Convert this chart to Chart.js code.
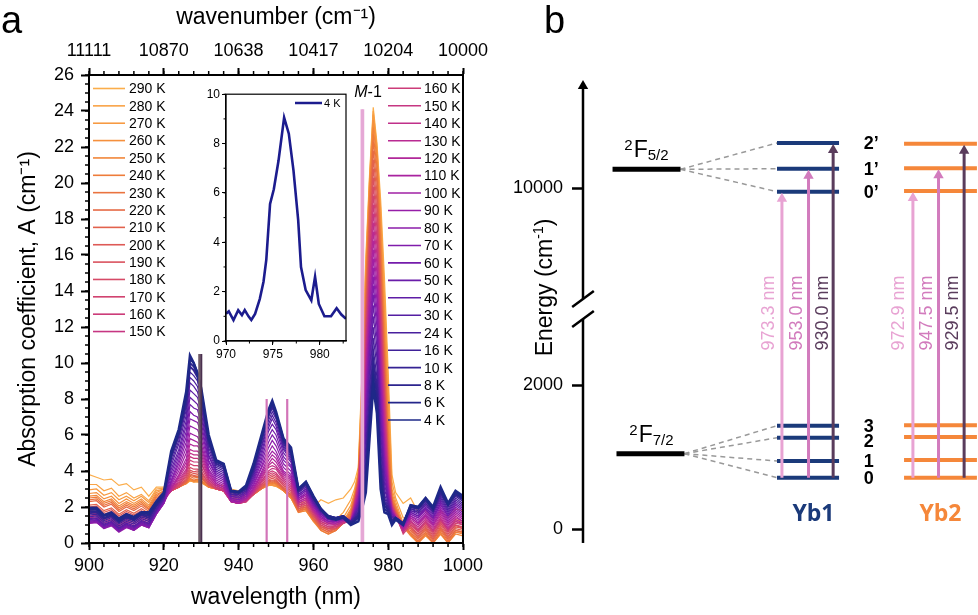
<!DOCTYPE html>
<html>
<head>
<meta charset="utf-8">
<title>Yb absorption spectra and crystal-field levels</title>
<script src="https://cdn.jsdelivr.net/npm/chart.js@4.4.1/dist/chart.umd.min.js"></script>
<style>
  html, body { margin: 0; padding: 0; background: #fff; }
  #wrap { position: relative; width: 978px; height: 615px; overflow: hidden; font-family: "Liberation Sans", Arial, sans-serif; }
  canvas { position: absolute; }
  .panel { position: absolute; font-size: 38px; line-height: 1; color: #000; }
</style>
</head>
<body>
<div id="wrap">
  <canvas id="spectra" width="520" height="615" style="left:0;top:0"></canvas>
  <canvas id="inset" width="165" height="285" style="left:190px;top:85px"></canvas>
  <canvas id="levels" width="488" height="615" style="left:490px;top:0"></canvas>
  <div class="panel" style="left:1px;top:1px">a</div>
  <div class="panel" style="left:544px;top:1px">b</div>
</div>
<script>
Chart.defaults.font.family = '"Liberation Sans", Arial, sans-serif';
Chart.defaults.color = '#000';

// ---- panel a data ----
const wavelengths = [900,902,904,906,908,910,912,914,916,918,920,922,924,926, 927,928,929,930,
  932,934,936,938,940,942,944,946,948, 949,950,952,954,956,958,960,962,964,966,968,970,
  971,972,973,974,975,976,977,978,979,980,981,982, 984,986,988,990,992,994,996,998,1000];

const temps = [4,6,8,10,16,24,30,40,50,60,70,80,90,100,110,120,130,140,150,160,170,180,190,200,210,220,230,240,250,260,270,280,290];

const abs4K   = [1.95,1.95,1.55,1.7,1.35,1.6,1.45,1.7,1.7,2.3,2.8,5.1,6.3,8.4, 10.4,10.0,9.4,8.6, 6.0,4.6,4.4,2.9,2.85,3.2,4.4,5.9,7.4, 7.9,7.3,5.8,5.3,3.0,3.4,2.6,1.9,1.4,1.3,1.4,1.0, 1.1,1.2,1.9,2.8,5.8,8.7,7.2,3.0,1.7,1.6,1.0,1.3, 1.0,2.1,2.0,2.5,2.0,3.1,2.2,2.9,2.6];
const abs6K   = [1.85,1.85,1.5,1.6,1.25,1.5,1.35,1.65,1.6,2.2,2.7,5.0,6.2,8.2, 10.2,10.0,9.5,8.5, 5.8,4.5,4.4,2.9,2.8,3.1,4.3,5.8,7.3, 7.8,7.2,5.8,5.2,3.0,3.4,2.6,1.9,1.5,1.4,1.5,1.1, 1.2,1.4,2.1,3.2,6.3,9.2,7.7,3.4,1.9,1.7,1.1,1.4, 1.1,2.1,2.0,2.5,1.9,3.0,2.2,2.8,2.5];
const abs8K   = [1.75,1.75,1.4,1.55,1.2,1.45,1.3,1.6,1.5,2.1,2.7,4.9,6.1,8.0, 10.0,9.8,9.4,8.4, 5.7,4.5,4.3,2.9,2.8,3.1,4.2,5.7,7.2, 7.7,7.2,5.7,5.1,3.0,3.3,2.5,1.9,1.5,1.4,1.5,1.1, 1.3,1.5,2.3,3.6,6.8,9.7,8.2,3.8,2.1,1.8,1.2,1.4, 1.1,2.0,1.9,2.4,1.9,2.9,2.1,2.7,2.5];
const abs10K  = [1.65,1.7,1.35,1.5,1.15,1.4,1.25,1.55,1.4,2.05,2.6,4.8,6.0,7.8, 9.8,9.6,9.2,8.2, 5.6,4.4,4.2,2.8,2.8,3.0,4.1,5.6,7.1, 7.6,7.1,5.6,5.0,2.9,3.3,2.5,1.8,1.5,1.4,1.5,1.1, 1.3,1.6,2.5,4.0,7.3,10.2,8.7,4.2,2.3,1.9,1.2,1.4, 1.1,2.0,1.9,2.4,1.8,2.8,2.1,2.7,2.4];
const abs16K  = [1.55,1.6,1.25,1.4,1.05,1.3,1.15,1.45,1.3,2.0,2.6,4.7,5.9,7.6, 9.5,9.3,9.0,8.0, 5.5,4.3,4.1,2.8,2.7,3.0,4.0,5.5,7.0, 7.5,7.0,5.5,4.9,2.9,3.2,2.4,1.8,1.5,1.4,1.5,1.2, 1.4,1.7,2.7,4.5,7.9,10.8,9.2,4.7,2.5,2.0,1.3,1.4, 1.1,1.9,1.8,2.3,1.8,2.7,2.0,2.6,2.3];
const abs24K  = [1.45,1.5,1.15,1.3,0.95,1.2,1.05,1.35,1.2,1.9,2.5,4.5,5.7,7.4, 9.2,9.0,8.7,7.8, 5.3,4.2,4.0,2.7,2.7,2.9,3.9,5.3,6.8, 7.3,6.9,5.4,4.8,2.8,3.2,2.4,1.8,1.4,1.4,1.5,1.2, 1.4,1.8,2.9,4.9,8.4,11.4,9.8,5.2,2.7,2.1,1.4,1.4, 1.1,1.9,1.7,2.2,1.7,2.6,1.9,2.5,2.2];
const abs30K  = [1.35,1.4,1.05,1.2,0.85,1.1,0.95,1.25,1.1,1.85,2.5,4.3,5.5,7.1, 8.9,8.7,8.4,7.6, 5.1,4.1,3.9,2.7,2.6,2.9,3.8,5.2,6.6, 7.1,6.7,5.3,4.7,2.8,3.1,2.3,1.7,1.4,1.4,1.5,1.2, 1.5,1.9,3.1,5.3,8.9,12.0,10.3,5.7,3.0,2.2,1.4,1.4, 1.1,1.8,1.7,2.2,1.7,2.5,1.8,2.4,2.1];
const abs40K  = [1.3,1.35,1.0,1.15,0.8,1.05,0.9,1.2,1.05,1.8,2.4,4.1,5.2,6.8, 8.5,8.3,8.1,7.3, 4.9,4.0,3.8,2.6,2.6,2.8,3.7,5.0,6.4, 6.9,6.5,5.2,4.6,2.7,3.0,2.3,1.7,1.4,1.3,1.5,1.2, 1.5,2.0,3.3,5.8,9.5,12.6,10.9,6.2,3.3,2.3,1.5,1.4, 1.1,1.8,1.6,2.1,1.6,2.4,1.7,2.3,2.0];
const abs50K  = [1.25,1.3,0.95,1.1,0.75,1.0,0.85,1.15,1.0,1.75,2.4,3.9,5.0,6.5, 8.1,7.9,7.7,7.0, 4.8,3.9,3.7,2.6,2.5,2.8,3.6,4.8,6.2, 6.6,6.3,5.0,4.5,2.7,3.0,2.2,1.7,1.3,1.3,1.4,1.2, 1.6,2.1,3.5,6.2,10.0,13.2,11.4,6.7,3.6,2.4,1.5,1.4, 1.0,1.7,1.5,2.0,1.5,2.3,1.6,2.2,1.9];
const abs60K  = [1.2,1.25,0.9,1.05,0.7,0.95,0.8,1.1,0.95,1.7,2.3,3.7,4.8,6.2, 7.7,7.5,7.4,6.7, 4.6,3.8,3.6,2.5,2.5,2.7,3.5,4.6,5.9, 6.3,6.0,4.8,4.3,2.6,2.9,2.2,1.6,1.3,1.3,1.4,1.2, 1.6,2.2,3.7,6.6,10.6,13.8,12.0,7.2,3.9,2.5,1.6,1.4, 1.0,1.7,1.5,1.9,1.4,2.2,1.5,2.1,1.8];
const abs70K  = [1.15,1.2,0.85,1.0,0.65,0.9,0.75,1.05,0.9,1.65,2.3,3.5,4.6,5.9, 7.3,7.1,7.0,6.4, 4.5,3.7,3.5,2.5,2.4,2.7,3.4,4.4,5.6, 6.0,5.7,4.6,4.2,2.6,2.9,2.1,1.6,1.3,1.2,1.4,1.2, 1.7,2.3,3.9,7.0,11.1,14.3,12.5,7.7,4.2,2.6,1.6,1.4, 1.0,1.6,1.4,1.9,1.4,2.1,1.5,2.0,1.7];
const abs80K  = [1.1,1.15,0.8,1.0,0.65,0.9,0.7,1.0,0.85,1.6,2.2,3.4,4.4,5.6, 6.9,6.8,6.7,6.1, 4.3,3.6,3.4,2.4,2.4,2.6,3.3,4.2,5.3, 5.7,5.4,4.4,4.0,2.5,2.8,2.1,1.5,1.2,1.2,1.3,1.2, 1.7,2.4,4.1,7.4,11.6,14.8,13.0,8.2,4.5,2.7,1.7,1.4, 0.9,1.6,1.4,1.8,1.3,2.0,1.4,1.9,1.6];
const abs90K  = [1.1,1.15,0.8,0.95,0.6,0.85,0.7,1.0,0.85,1.6,2.2,3.3,4.2,5.3, 6.5,6.4,6.3,5.8, 4.1,3.5,3.3,2.4,2.3,2.6,3.2,4.1,5.0, 5.4,5.1,4.2,3.8,2.5,2.7,2.0,1.5,1.2,1.2,1.3,1.2, 1.8,2.5,4.3,7.8,12.1,15.3,13.5,8.7,4.8,2.8,1.7,1.4, 0.9,1.5,1.3,1.7,1.2,1.9,1.3,1.8,1.5];
const abs100K = [1.1,1.15,0.85,1.0,0.65,0.9,0.7,1.0,0.85,1.6,2.2,3.2,4.0,5.0, 6.1,6.0,5.9,5.5, 4.0,3.4,3.2,2.3,2.3,2.5,3.1,3.9,4.8, 5.1,4.9,4.0,3.7,2.4,2.7,2.0,1.4,1.2,1.1,1.3,1.2, 1.8,2.6,4.5,8.2,12.6,15.8,14.0,9.2,5.1,2.9,1.8,1.4, 0.9,1.5,1.2,1.6,1.1,1.8,1.2,1.7,1.4];
const abs110K = [1.15,1.2,0.9,1.05,0.7,0.95,0.75,1.05,0.9,1.65,2.2,3.1,3.8,4.7, 5.8,5.7,5.6,5.3, 3.9,3.3,3.1,2.3,2.2,2.5,3.0,3.8,4.6, 4.9,4.7,3.9,3.6,2.4,2.6,1.9,1.4,1.1,1.1,1.3,1.2, 1.9,2.7,4.7,8.6,13.1,16.3,14.5,9.7,5.4,3.0,1.8,1.4, 0.8,1.4,1.1,1.5,1.0,1.7,1.1,1.6,1.3];
const abs120K = [1.2,1.25,0.95,1.1,0.75,1.0,0.8,1.1,0.95,1.7,2.3,3.0,3.7,4.5, 5.5,5.4,5.4,5.1, 3.8,3.3,3.1,2.3,2.2,2.4,3.0,3.7,4.4, 4.7,4.5,3.8,3.5,2.3,2.5,1.9,1.3,1.1,1.1,1.2,1.2, 1.9,2.8,4.9,9.0,13.6,16.8,15.0,10.2,5.8,3.1,1.8,1.4, 0.8,1.4,1.1,1.5,1.0,1.6,1.0,1.5,1.2];
const abs130K = [1.3,1.35,1.0,1.15,0.8,1.05,0.85,1.15,1.0,1.75,2.3,3.0,3.6,4.3, 5.2,5.1,5.1,4.9, 3.7,3.2,3.0,2.3,2.2,2.4,2.9,3.6,4.3, 4.5,4.3,3.7,3.4,2.3,2.5,1.8,1.3,1.1,1.0,1.2,1.2, 2.0,2.9,5.1,9.4,14.1,17.3,15.5,10.7,6.2,3.2,1.9,1.5, 0.7,1.3,1.0,1.4,0.9,1.5,0.9,1.4,1.2];
const abs140K = [1.4,1.45,1.1,1.25,0.9,1.15,0.95,1.2,1.05,1.8,2.4,2.9,3.5,4.1, 5.0,4.9,4.9,4.7, 3.6,3.2,3.0,2.3,2.2,2.4,2.9,3.5,4.2, 4.3,4.2,3.6,3.3,2.2,2.4,1.8,1.2,1.0,1.0,1.2,1.2, 2.0,3.0,5.3,9.8,14.6,17.8,16.0,11.2,6.6,3.3,1.9,1.5, 0.7,1.2,0.9,1.3,0.8,1.4,0.8,1.3,1.1];
const abs150K = [1.5,1.55,1.2,1.35,1.0,1.25,1.05,1.3,1.1,1.85,2.4,2.9,3.4,4.0, 4.8,4.7,4.7,4.5, 3.5,3.1,2.9,2.3,2.2,2.3,2.8,3.4,4.0, 4.15,4.1,3.5,3.2,2.2,2.4,1.7,1.2,1.0,1.0,1.1,1.2, 2.1,3.1,5.5,10.2,15.1,18.3,16.5,11.7,7.0,3.4,2.0,1.5, 0.6,1.2,0.8,1.2,0.7,1.3,0.8,1.2,1.1];
const abs160K = [1.6,1.65,1.3,1.45,1.1,1.35,1.15,1.4,1.2,1.9,2.5,2.9,3.3,3.9, 4.6,4.5,4.5,4.4, 3.5,3.1,2.9,2.3,2.2,2.3,2.8,3.4,3.9, 4.0,3.9,3.4,3.1,2.1,2.3,1.7,1.1,0.9,0.9,1.1,1.3, 2.1,3.2,5.7,10.6,15.6,18.8,17.0,12.2,7.4,3.5,2.0,1.5, 0.6,1.1,0.7,1.2,0.7,1.3,0.7,1.2,1.0];
const abs170K = [1.7,1.75,1.4,1.55,1.2,1.45,1.25,1.5,1.3,2.0,2.5,2.9,3.2,3.8, 4.4,4.3,4.3,4.2, 3.4,3.0,2.9,2.3,2.2,2.3,2.7,3.3,3.8, 3.9,3.8,3.3,3.0,2.1,2.2,1.6,1.1,0.9,0.9,1.1,1.3, 2.2,3.3,5.9,11.0,16.1,19.3,17.5,12.7,7.8,3.7,2.1,1.6, 0.5,1.0,0.7,1.1,0.6,1.2,0.7,1.1,1.0];
const abs180K = [1.8,1.85,1.5,1.65,1.3,1.55,1.35,1.6,1.4,2.1,2.6,2.9,3.2,3.7, 4.2,4.1,4.1,4.0, 3.3,3.0,2.9,2.3,2.2,2.3,2.7,3.2,3.7, 3.8,3.7,3.2,2.9,2.0,2.2,1.6,1.0,0.8,0.9,1.1,1.3, 2.2,3.3,6.1,11.4,16.6,19.8,18.0,13.2,8.2,3.9,2.1,1.6, 1.1,1.0,0.6,1.1,0.5,1.1,0.6,1.0,0.9];
const abs190K = [1.9,1.95,1.6,1.75,1.4,1.65,1.45,1.7,1.45,2.15,2.6,2.9,3.1,3.6, 4.05,3.95,4.0,3.9, 3.3,3.0,2.9,2.4,2.3,2.3,2.7,3.2,3.6, 3.7,3.6,3.2,2.9,2.0,2.1,1.5,1.0,0.8,0.8,1.1,1.4, 2.3,3.4,6.3,11.8,17.0,20.3,18.5,13.7,8.6,4.1,2.2,1.6, 1.0,0.9,0.5,1.0,0.4,1.1,0.5,1.0,0.8];
const abs200K = [2.0,2.05,1.7,1.85,1.5,1.75,1.55,1.8,1.55,2.2,2.7,2.9,3.1,3.5, 3.95,3.85,3.9,3.8, 3.2,3.0,2.9,2.4,2.3,2.4,2.7,3.1,3.5, 3.6,3.5,3.1,2.8,1.9,2.1,1.5,0.9,0.7,0.8,1.1,1.4, 2.3,3.4,6.6,12.2,17.5,20.8,19.0,14.2,9.0,4.3,2.2,1.7, 1.0,0.9,0.4,0.9,0.3,1.0,0.4,0.9,0.8];
const abs210K = [2.1,2.15,1.8,1.95,1.6,1.85,1.65,1.9,1.65,2.3,2.7,2.9,3.1,3.45, 3.85,3.75,3.8,3.7, 3.2,3.0,2.9,2.5,2.3,2.4,2.7,3.1,3.45, 3.5,3.45,3.0,2.7,1.9,2.0,1.4,0.9,0.7,0.8,1.1,1.5, 2.4,3.5,6.9,12.6,17.9,21.3,19.5,14.7,9.4,4.6,2.3,1.7, 0.9,0.8,0.3,0.8,0.2,0.9,0.3,0.8,0.7];
const abs220K = [2.3,2.35,2.0,2.15,1.75,2.0,1.8,2.05,1.75,2.4,2.8,2.9,3.1,3.4, 3.75,3.7,3.7,3.65, 3.2,3.0,2.9,2.5,2.4,2.4,2.7,3.0,3.4, 3.45,3.4,3.0,2.7,1.8,2.0,1.4,0.8,0.6,0.8,1.1,1.5, 2.4,3.5,7.2,13.0,18.3,21.8,20.0,15.2,9.8,4.9,2.3,1.8, 0.9,0.7,0.2,0.7,0.1,0.8,0.2,0.7,0.6];
const abs230K = [2.4,2.45,2.1,2.25,1.85,2.1,1.9,2.15,1.85,2.5,2.8,2.9,3.1,3.35, 3.7,3.6,3.65,3.6, 3.2,3.0,2.9,2.6,2.4,2.5,2.7,3.0,3.35, 3.4,3.35,3.0,2.6,1.8,1.9,1.3,0.8,0.6,0.7,1.1,1.6, 2.5,3.6,7.5,13.4,18.7,22.3,20.5,15.7,10.3,5.3,2.4,1.8, 0.9,0.6,0.1,0.6,0.0,0.7,0.1,0.7,0.6];
const abs240K = [2.5,2.55,2.2,2.35,1.95,2.2,2.0,2.25,1.9,2.6,2.9,2.95,3.1,3.3, 3.6,3.5,3.55,3.5, 3.1,3.0,2.9,2.6,2.5,2.5,2.7,3.0,3.3, 3.35,3.3,2.9,2.6,1.7,1.9,1.3,0.7,0.5,0.7,1.1,1.7, 2.5,3.6,7.8,13.8,19.1,22.7,20.9,16.3,10.9,5.8,2.5,1.9, 0.9,0.5,0.0,0.5,0.0,0.6,0.0,0.6,0.5];
const abs250K = [2.6,2.65,2.3,2.45,2.05,2.3,2.1,2.35,2.0,2.7,2.9,3.0,3.1,3.3, 3.55,3.45,3.5,3.45, 3.1,3.0,2.9,2.7,2.5,2.6,2.7,3.0,3.25, 3.3,3.25,2.9,2.5,1.7,1.8,1.2,0.7,0.5,0.7,1.1,1.8, 2.6,3.7,8.1,14.2,19.5,23.1,21.3,16.9,11.5,6.4,2.6,2.0, 0.9,0.4,0.0,0.4,0.0,0.5,0.0,0.5,0.4];
const abs260K = [2.75,2.8,2.45,2.6,2.2,2.45,2.2,2.45,2.1,2.8,3.0,3.05,3.15,3.3, 3.5,3.4,3.45,3.4, 3.1,3.0,2.95,2.7,2.6,2.6,2.75,3.0,3.2, 3.25,3.2,2.9,2.5,1.7,1.8,1.2,0.8,0.6,0.8,1.2,1.9, 2.7,3.8,8.4,14.6,19.8,23.5,21.6,17.5,12.3,7.1,2.8,2.1, 1.0,0.5,0.0,0.5,0.0,0.5,0.0,0.6,0.6];
const abs270K = [2.95,3.0,2.65,2.8,2.4,2.6,2.35,2.6,2.25,2.9,3.0,3.1,3.2,3.3, 3.45,3.4,3.4,3.35, 3.1,3.05,3.0,2.8,2.7,2.7,2.8,3.0,3.2, 3.2,3.15,2.9,2.5,1.8,1.9,1.3,0.9,0.8,1.0,1.4,2.1, 2.8,3.9,8.8,15.0,20.0,23.8,21.8,18.0,13.1,7.9,3.0,2.3, 1.1,0.8,0.3,0.8,0.2,0.8,0.3,0.9,0.9];
const abs280K = [3.25,3.25,2.9,3.05,2.6,2.8,2.5,2.7,2.35,3.0,3.05,3.15,3.25,3.35, 3.45,3.4,3.4,3.35, 3.15,3.1,3.05,2.9,2.8,2.8,2.9,3.05,3.2, 3.2,3.15,2.95,2.5,1.9,2.0,1.5,1.1,1.1,1.3,1.7,2.4, 3.0,4.0,9.1,15.4,20.2,24.0,22.0,18.5,13.9,8.7,3.4,2.5, 1.4,1.2,0.7,1.2,0.6,1.2,0.7,1.3,1.2];
const abs290K = [3.8,3.65,3.5,3.55,3.2,3.3,2.95,3.1,2.6,3.1,3.1,3.2,3.3,3.4, 3.5,3.45,3.45,3.4, 3.3,3.2,3.2,3.0,2.9,3.0,3.1,3.2,3.3, 3.3,3.3,3.1,2.6,2.2,2.3,2.0,2.4,2.2,2.4,2.5,3.0, 3.4,4.2,9.5,15.8,20.4,24.2,22.2,19.0,14.7,9.5,3.8,2.8, 2.2,2.5,1.7,1.8,1.3,1.8,1.4,1.9,1.8];

const spectra = [abs4K, abs6K, abs8K, abs10K, abs16K, abs24K, abs30K, abs40K, abs50K, abs60K, abs70K, abs80K, abs90K,
  abs100K, abs110K, abs120K, abs130K, abs140K, abs150K, abs160K, abs170K, abs180K, abs190K, abs200K,
  abs210K, abs220K, abs230K, abs240K, abs250K, abs260K, abs270K, abs280K, abs290K];

const tempColors = ['#1e2888','#24268a','#2c248e','#352393','#3f2198','#49209d','#541ea2','#5f1da6','#6a1ca9','#751cab',
  '#801cab','#8b1daa','#961ea8','#a020a4','#a9239f','#b12799','#b92b92','#c0308a','#c63682','#cc3c79','#d14370',
  '#d64a67','#da525e','#de5a56','#e2624d','#e66a45','#ea733f','#ee7c3a','#f28639','#f5903d','#f79a42','#f9a346','#fbad4b'];

const topTickLabels = ['11111', '10870', '10638', '10417', '10204', '10000'];

// transition wavelengths marked in panel a
const markerNm = [929.5, 930.0, 947.5, 953.0, 972.9, 973.3];
const markerTop = [10.5, 10.5, 8.0, 8.0, 24.1, 24.1];
const markerColors = ['#6e5a68', '#4a304f', '#d274b8', '#d274b8', '#e6a8d6', '#e6a8d6'];

const legendLeft = [290,280,270,260,250,240,230,220,210,200,190,180,170,160,150];
const legendRight = [160,150,140,130,120,110,100,90,80,70,60,50,40,30,24,16,10,8,6,4];

// inset: 4 K spectrum around M-1
const insetWl  = [970, 970.3, 970.8, 971.3, 971.7, 972.0, 972.4, 972.7, 973.1, 973.6, 974.0, 974.3, 974.7, 975.1, 975.6, 976.2, 976.7, 977.2, 977.7, 978.0, 978.5, 979.1, 979.5, 979.9, 980.5, 981.2, 981.8, 982.3, 982.8];
const insetAbs = [1.1, 1.2, 0.85, 1.25, 1.05, 1.25, 1.0, 0.85, 1.1, 1.7, 2.4, 3.3, 5.55, 6.15, 7.3, 9.05, 8.4, 6.9, 4.9, 3.0, 2.06, 1.65, 2.6, 1.5, 1.0, 1.0, 1.33, 1.07, 0.9];

// ---- panel b data (schematic energies, cm-1) ----
const energyTicks = [0, 2000, 10000];
const energyTickLabels = ['0', '2000', '10000'];
const groundYb1 = [712, 944, 1268, 1435];
const groundYb2 = [712, 958, 1278, 1440];
const excitedYb1 = [9953, 10272, 10629];
const excitedYb2 = [9962, 10278, 10619];
const termF72 = 1046;
const termF52 = 10264;
const transYb1 = ['973.3', '953.0', '930.0'];
const transYb2 = ['972.9', '947.5', '929.5'];

// broken energy axis: everything above the break is shifted down
const brk = E => E > 5000 ? E - 5268 : E;

const colorOf = t => tempColors[temps.indexOf(t)];
const FONT = '"Liberation Sans", Arial, sans-serif';

// ---- shared plugins ----
const minorTicks = {
  id: 'minorTicks',
  afterDraw(chart, args, opts) {
    const ctx = chart.ctx;
    ctx.save();
    ctx.strokeStyle = '#000';
    ctx.lineWidth = opts.width || 1.5;
    Object.keys(opts.steps || {}).forEach(id => {
      const s = chart.scales[id];
      const step = opts.steps[id];
      for (let v = s.min; v <= s.max + 1e-9; v += step) {
        const p = s.getPixelForValue(v);
        ctx.beginPath();
        if (s.position === 'bottom') { ctx.moveTo(p, s.top); ctx.lineTo(p, s.top + opts.len); }
        else if (s.position === 'top') { ctx.moveTo(p, s.bottom); ctx.lineTo(p, s.bottom - opts.len); }
        else { ctx.moveTo(s.right, p); ctx.lineTo(s.right - opts.len, p); }
        ctx.stroke();
      }
    });
    ctx.restore();
  }
};

function frame(w) {
  return {
    id: 'frame',
    afterDraw(chart) {
      const a = chart.chartArea, ctx = chart.ctx;
      ctx.save();
      ctx.strokeStyle = '#000';
      ctx.lineWidth = w;
      ctx.strokeRect(a.left, a.top, a.right - a.left, a.bottom - a.top);
      ctx.restore();
    }
  };
}

const tempLegend = {
  id: 'tempLegend',
  afterDraw(chart) {
    const ctx = chart.ctx;
    ctx.save();
    ctx.font = '14px ' + FONT;
    ctx.textBaseline = 'middle';
    ctx.textAlign = 'left';
    ctx.fillStyle = '#000';
    const column = (list, x0, x1, tx, y0, dy) => list.forEach((t, i) => {
      const y = y0 + i * dy;
      ctx.strokeStyle = colorOf(t);
      ctx.lineWidth = 1.6;
      ctx.beginPath(); ctx.moveTo(x0, y); ctx.lineTo(x1, y); ctx.stroke();
      ctx.fillText(t + ' K', tx, y + 1);
    });
    column(legendLeft, 93, 125, 129, 88.5, 17.36);
    column(legendRight, 388, 421, 424, 88.3, 17.46);
    ctx.restore();
  }
};

const mLabel = {
  id: 'mLabel',
  afterDraw(chart) {
    const {ctx, scales: {x, y}} = chart;
    const cx = x.getPixelForValue(974.6), cy = y.getPixelForValue(25);
    ctx.save();
    ctx.fillStyle = '#000';
    ctx.textBaseline = 'middle';
    ctx.textAlign = 'left';
    ctx.font = 'italic 16px ' + FONT;
    const wM = ctx.measureText('M').width;
    ctx.font = '16px ' + FONT;
    const wR = ctx.measureText('-1').width;
    const sx = cx - (wM + wR) / 2;
    ctx.font = 'italic 16px ' + FONT;
    ctx.fillText('M', sx, cy);
    ctx.font = '16px ' + FONT;
    ctx.fillText('-1', sx + wM, cy);
    ctx.restore();
  }
};

// ---- panel a: spectra ----
const markerSets = markerNm.map((nm, i) => ({
  data: [{x: nm, y: 0}, {x: nm, y: markerTop[i]}],
  borderColor: markerColors[i],
  borderWidth: 2.2,
  xAxisID: 'x'
}));

const spectraSets = spectra.map((row, k) => ({
  label: temps[k] + ' K',
  data: wavelengths.map((w, i) => ({x: w, y: row[i]})),
  borderColor: tempColors[k],
  borderWidth: temps[k] === 4 ? 2.6 : (temps[k] <= 10 ? 1.9 : 1.2),
  xAxisID: 'x'
}));

const tickGrid = {drawOnChartArea: false, tickLength: 7, tickWidth: 2, tickColor: '#000'};
const axisBorder = {color: '#000', width: 2};

new Chart(document.getElementById('spectra'), {
  type: 'line',
  data: {datasets: [...markerSets, ...spectraSets]},
  options: {
    responsive: false,
    animation: false,
    events: [],
    layout: {padding: {left: 0, right: 57, top: 0, bottom: 0}},
    elements: {point: {radius: 0}, line: {tension: 0}},
    plugins: {
      legend: {display: false},
      tooltip: {enabled: false},
      minorTicks: {steps: {x: 4, x2: 4, y: 0.5}, len: 4, width: 1.5}
    },
    scales: {
      x: {
        type: 'linear', position: 'bottom', min: 900, max: 1000,
        ticks: {stepSize: 20, font: {size: 18}, padding: 5, autoSkip: false, maxRotation: 0,
          callback: v => String(v)},
        grid: tickGrid, border: axisBorder,
        title: {display: true, text: 'wavelength (nm)', font: {size: 23}, padding: {top: 0, bottom: 4}},
        afterFit: s => { s.height = 72; }
      },
      x2: {
        type: 'linear', position: 'top', min: 900, max: 1000,
        ticks: {stepSize: 20, font: {size: 18}, padding: 6, autoSkip: false, maxRotation: 0,
          callback: (v, i) => topTickLabels[i]},
        grid: tickGrid, border: axisBorder,
        title: {display: true, text: 'wavenumber (cm\u207B\u00B9)', font: {size: 23}, padding: {top: 4, bottom: 0}},
        afterFit: s => { s.height = 75; }
      },
      y: {
        type: 'linear', position: 'left', min: 0, max: 26,
        ticks: {stepSize: 2, font: {size: 18}, padding: 7, autoSkip: false},
        grid: {drawOnChartArea: false, tickLength: 8, tickWidth: 2, tickColor: '#000'},
        border: axisBorder,
        title: {display: true, text: 'Absorption coefficient, A (cm\u207B\u00B9)', font: {size: 23}, padding: {top: 15, bottom: 0}},
        afterFit: s => { s.width = 89; }
      }
    }
  },
  plugins: [minorTicks, frame(2), tempLegend, mLabel]
});

// ---- inset ----
const insetLegend = {
  id: 'insetLegend',
  afterDraw(chart) {
    const ctx = chart.ctx;
    ctx.save();
    ctx.strokeStyle = '#1c1c8e';
    ctx.lineWidth = 2.5;
    ctx.beginPath(); ctx.moveTo(105, 18); ctx.lineTo(132, 18); ctx.stroke();
    ctx.fillStyle = '#000';
    ctx.font = '11px ' + FONT;
    ctx.textBaseline = 'middle';
    ctx.fillText('4 K', 134, 18.5);
    ctx.restore();
  }
};

const insetGrid = {drawOnChartArea: false, tickLength: 4, tickWidth: 1, tickColor: '#000'};
new Chart(document.getElementById('inset'), {
  type: 'line',
  data: {datasets: [{
    data: insetWl.map((w, i) => ({x: w, y: insetAbs[i]})),
    borderColor: '#1c1c8e', borderWidth: 2.6, pointRadius: 0, tension: 0
  }]},
  options: {
    responsive: false,
    animation: false,
    events: [],
    layout: {padding: {left: 0, right: 9, top: 8, bottom: 0}},
    plugins: {
      legend: {display: false},
      tooltip: {enabled: false},
      minorTicks: {steps: {x: 2.5, y: 1}, len: 2.5, width: 1}
    },
    scales: {
      x: {
        type: 'linear', min: 970, max: 982.8,
        ticks: {stepSize: 5, includeBounds: false, font: {size: 12}, padding: 2, autoSkip: false, maxRotation: 0},
        grid: insetGrid, border: {color: '#000', width: 1.2},
        afterFit: s => { s.height = 29; }
      },
      y: {
        type: 'linear', min: 0, max: 10,
        ticks: {stepSize: 2, font: {size: 12}, padding: 2},
        grid: insetGrid, border: {color: '#000', width: 1.2},
        afterFit: s => { s.width = 36; }
      }
    }
  },
  plugins: [minorTicks, frame(1.2), insetLegend]
});

// ---- panel b: energy level scheme ----
const YB1 = '#1b3a7a', YB2 = '#f5873a', BLACK = '#000';
const arrowColors = ['#e8a3d3', '#d27bbd', '#5a3c5c'];
// horizontal layout of the scheme (x units of the hidden scale, 0 = energy axis)
const col = {
  f52: [30, 99], f72: [34, 103], yb1: [197, 260], yb2: [326, 400],
  arrYb1: [202, 229, 254], arrYb2: [335, 361, 387],
  labYb1: [189, 217, 243.5], labYb2: [320.5, 349.5, 376],
  num: 285, name: [234, 363], term52: 42, term72: 47
};
const labelE = 3000;   // where the rotated wavelength labels sit
const nameE = 208;     // where Yb1 / Yb2 sit

const seg = (x0, x1, E, color, w) => ({
  data: [{x: x0, y: brk(E)}, {x: x1, y: brk(E)}],
  showLine: true, borderColor: color, borderWidth: w, pointRadius: 0, clip: false
});

const arrow = (x, fromE, toE, color) => ({
  data: [{x: x, y: brk(fromE)}, {x: x, y: brk(toE) - 97}],
  showLine: true, borderColor: color, borderWidth: 3, clip: false,
  pointRadius: [0, 6], pointStyle: 'triangle', pointBackgroundColor: color, pointBorderWidth: 0
});

const dashed = (x0, E0, x1, E1) => ({
  data: [{x: x0, y: brk(E0)}, {x: x1, y: brk(E1)}],
  showLine: true, borderColor: '#999', borderWidth: 1.5, borderDash: [5, 4], pointRadius: 0, clip: false
});

const levelSets = [];
transYb1.forEach((t, i) => levelSets.push(arrow(col.arrYb1[i], groundYb1[0], excitedYb1[i], arrowColors[i])));
transYb2.forEach((t, i) => levelSets.push(arrow(col.arrYb2[i], groundYb2[0], excitedYb2[i], arrowColors[i])));
groundYb1.concat(excitedYb1).forEach(E => levelSets.push(seg(col.yb1[0], col.yb1[1], E, YB1, 4)));
groundYb2.concat(excitedYb2).forEach(E => levelSets.push(seg(col.yb2[0], col.yb2[1], E, YB2, 4)));
levelSets.push(seg(col.f52[0], col.f52[1], termF52, BLACK, 5));
levelSets.push(seg(col.f72[0], col.f72[1], termF72, BLACK, 5));
excitedYb1.forEach(E => levelSets.push(dashed(col.f52[1], termF52, col.yb1[0], E)));
groundYb1.forEach(E => levelSets.push(dashed(col.f72[1], termF72, col.yb1[0], E)));
// energy axis with break and arrow head (axis units)
levelSets.push({data: [{x: 0, y: -194}, {x: 0, y: 2917}], showLine: true, borderColor: BLACK, borderWidth: 2.5, pointRadius: 0, clip: false});
levelSets.push({data: [{x: 0, y: 3194}, {x: 0, y: 6153}], showLine: true, borderColor: BLACK, borderWidth: 2.5, clip: false,
  pointRadius: [0, 6], pointStyle: 'triangle', pointBackgroundColor: BLACK, pointBorderWidth: 0});
levelSets.push({data: [{x: -11, y: 3083}, {x: 11, y: 3305}], showLine: true, borderColor: BLACK, borderWidth: 2.5, pointRadius: 0, clip: false});
levelSets.push({data: [{x: -11, y: 2806}, {x: 11, y: 3028}], showLine: true, borderColor: BLACK, borderWidth: 2.5, pointRadius: 0, clip: false});

function drawTerm(ctx, x, base, sub) {
  ctx.textAlign = 'left';
  ctx.textBaseline = 'alphabetic';
  ctx.fillStyle = '#000';
  ctx.font = '15px ' + FONT;
  ctx.fillText('2', x, base - 7);
  const w2 = ctx.measureText('2').width;
  ctx.font = '23px ' + FONT;
  ctx.fillText('F', x + w2 + 1, base);
  const wF = ctx.measureText('F').width;
  ctx.font = '15px ' + FONT;
  ctx.fillText(sub, x + w2 + 1 + wF, base + 3);
}

const levelText = {
  id: 'levelText',
  afterDraw(chart) {
    const {ctx, scales: {x, y}} = chart;
    const px = v => x.getPixelForValue(v);
    const py = E => y.getPixelForValue(brk(E));
    ctx.save();
    drawTerm(ctx, px(col.term52), py(termF52) - 12, '5/2');
    drawTerm(ctx, px(col.term72), py(termF72) - 12, '7/2');

    ctx.font = 'bold 18px ' + FONT;
    ctx.textAlign = 'left';
    ctx.textBaseline = 'middle';
    ctx.fillStyle = '#000';
    excitedYb1.forEach((E, i) => ctx.fillText(i + '\u2019', px(col.num), py(E) + 1));
    groundYb1.forEach((E, i) => ctx.fillText(String(i), px(col.num), py(E) + (i === 2 ? 4 : 1)));

    ctx.font = 'bold 23px "Open Sans", ' + FONT;
    ctx.textAlign = 'center';
    ctx.fillStyle = YB1;
    ctx.fillText('Yb1', px(col.name[0]), py(nameE));
    ctx.fillStyle = YB2;
    ctx.fillText('Yb2', px(col.name[1]), py(nameE));

    ctx.font = '18px ' + FONT;
    const rotLabel = (text, lx, color) => {
      ctx.save();
      ctx.translate(px(lx), py(labelE));
      ctx.rotate(-Math.PI / 2);
      ctx.fillStyle = color;
      ctx.textAlign = 'center';
      ctx.textBaseline = 'middle';
      ctx.fillText(text + ' nm', 0, 0);
      ctx.restore();
    };
    transYb1.forEach((t, i) => rotLabel(t, col.labYb1[i], arrowColors[i]));
    transYb2.forEach((t, i) => rotLabel(t, col.labYb2[i], arrowColors[i]));

    // axis title
    ctx.save();
    ctx.translate(56, 287.5);
    ctx.rotate(-Math.PI / 2);
    ctx.fillStyle = '#000';
    ctx.textBaseline = 'middle';
    ctx.textAlign = 'left';
    ctx.font = '23px ' + FONT;
    const w1 = ctx.measureText('Energy (cm').width;
    const w3 = ctx.measureText(')').width;
    ctx.font = '14px ' + FONT;
    const w2 = ctx.measureText('-1').width;
    const sx = -(w1 + w2 + w3) / 2;
    ctx.font = '23px ' + FONT;
    ctx.fillText('Energy (cm', sx, 0);
    ctx.font = '14px ' + FONT;
    ctx.fillText('-1', sx + w1, -7);
    ctx.font = '23px ' + FONT;
    ctx.fillText(')', sx + w1 + w2, 0);
    ctx.restore();
    ctx.restore();
  }
};

new Chart(document.getElementById('levels'), {
  type: 'scatter',
  data: {datasets: levelSets},
  options: {
    responsive: false,
    animation: false,
    events: [],
    layout: {padding: {left: 0, right: 0, top: 60, bottom: 72}},
    plugins: {legend: {display: false}, tooltip: {enabled: false}},
    scales: {
      x: {type: 'linear', display: false, min: 0, max: 395},
      y: {
        type: 'linear', position: 'left', min: -194.4, max: 6514,
        afterBuildTicks: s => { s.ticks = energyTicks.map(E => ({value: brk(E)})); },
        ticks: {font: {size: 18}, padding: 9, autoSkip: false, callback: (v, i) => energyTickLabels[i]},
        grid: {drawOnChartArea: false, tickLength: 11, tickWidth: 2.5, tickColor: '#000'},
        border: {display: false},
        afterFit: s => { s.width = 93; }
      }
    }
  },
  plugins: [levelText]
});
</script>
</body>
</html>
